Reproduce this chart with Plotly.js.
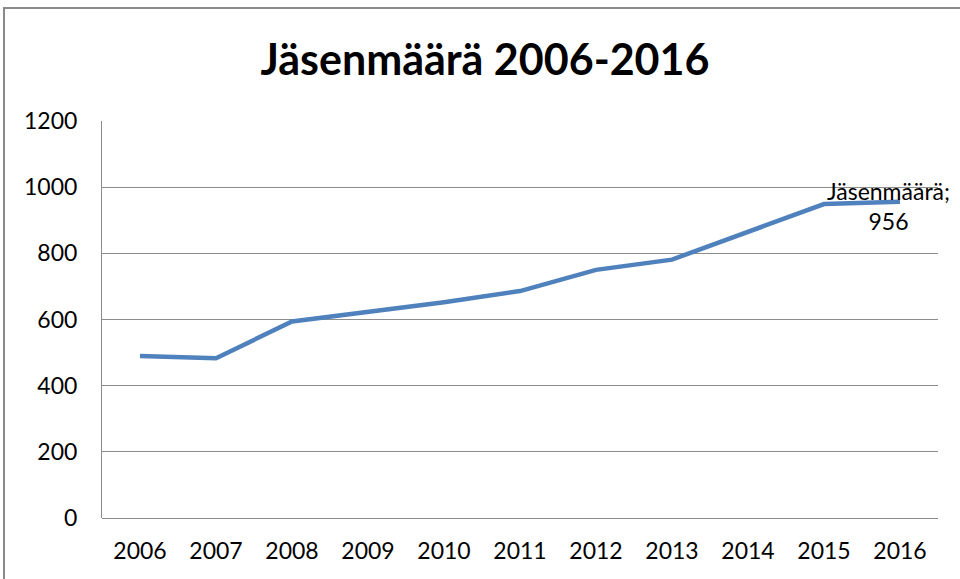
<!DOCTYPE html>
<html>
<head>
<meta charset="utf-8">
<script src="https://cdn.plot.ly/plotly-3.0.1.min.js"></script>
<style>
  html, body { margin: 0; padding: 0; background: #ffffff; }
  #chart { width: 960px; height: 579px; }
</style>
</head>
<body>
<div id="chart"></div>
<script>
// Data
const years = ['2006', '2007', '2008', '2009', '2010', '2011', '2012', '2013', '2014', '2015', '2016'];
const members = [490, 483, 594, 622, 652, 686, 750, 781, 866, 949, 956];
const seriesName = 'Jäsenmäärä';
const chartTitle = 'Jäsenmäärä 2006-2016';
const yTicks = [0, 200, 400, 600, 800, 1000, 1200];

const W = 960, H = 579;
const margin = { l: 102, r: 22, t: 121, b: 61 };
const pw = W - margin.l - margin.r;
const ph = H - margin.t - margin.b;
const px2paperX = px => (px - margin.l) / pw;
const py2paperY = py => (H - margin.b - py) / ph;

const lastIdx = years.length - 1;

const trace = {
  x: years,
  y: members,
  type: 'scatter',
  mode: 'lines',
  name: seriesName,
  line: { color: '#4F81BD', width: 4.5 },
  hoverinfo: 'x+y'
};

const layout = {
  width: W,
  height: H,
  margin: margin,
  paper_bgcolor: '#ffffff',
  plot_bgcolor: '#ffffff',
  showlegend: false,
  font: { family: 'Lato, "Open Sans", sans-serif', color: '#000000' },
  title: {
    text: '<b>' + chartTitle + '</b>',
    font: { family: 'Lato, "Open Sans", sans-serif', size: 43, color: '#000000' },
    x: 485 / W, xanchor: 'center',
    y: 1 - 60 / H, yanchor: 'middle',
    xref: 'container', yref: 'container'
  },
  xaxis: {
    type: 'category',
    range: [-0.5, lastIdx + 0.5],
    showgrid: false,
    zeroline: false,
    showline: false,
    ticks: '',
    ticklabelstandoff: 17,
    tickfont: { size: 23, color: '#000000', family: 'Lato, "Open Sans", sans-serif' },
    fixedrange: true
  },
  yaxis: {
    range: [0, 1200],
    tickvals: yTicks,
    ticktext: yTicks.map(String),
    showgrid: true,
    gridcolor: '#8c8c8c',
    gridwidth: 1,
    zeroline: true,
    zerolinecolor: '#8c8c8c',
    zerolinewidth: 1,
    showline: true,
    linecolor: '#8c8c8c',
    linewidth: 1,
    ticks: '',
    ticklabelstandoff: 19,
    tickfont: { size: 23, color: '#000000', family: 'Lato, "Open Sans", sans-serif' },
    fixedrange: true
  },
  annotations: [{
    x: lastIdx,
    y: members[lastIdx],
    xref: 'x', yref: 'y',
    text: seriesName + ';<br>' + members[lastIdx],
    showarrow: false,
    xanchor: 'center',
    yanchor: 'middle',
    xshift: -12,
    yshift: -4,
    align: 'center',
    font: { size: 23, color: '#000000', family: 'Lato, "Open Sans", sans-serif' }
  }],
  shapes: [{
    type: 'rect',
    xref: 'paper', yref: 'paper',
    x0: px2paperX(4), x1: px2paperX(963),
    y0: py2paperY(585), y1: py2paperY(8),
    line: { color: '#8a8a8a', width: 2 },
    fillcolor: 'rgba(0,0,0,0)',
    layer: 'above'
  }]
};

Plotly.newPlot('chart', [trace], layout, { displayModeBar: false, staticPlot: true });
</script>
</body>
</html>
